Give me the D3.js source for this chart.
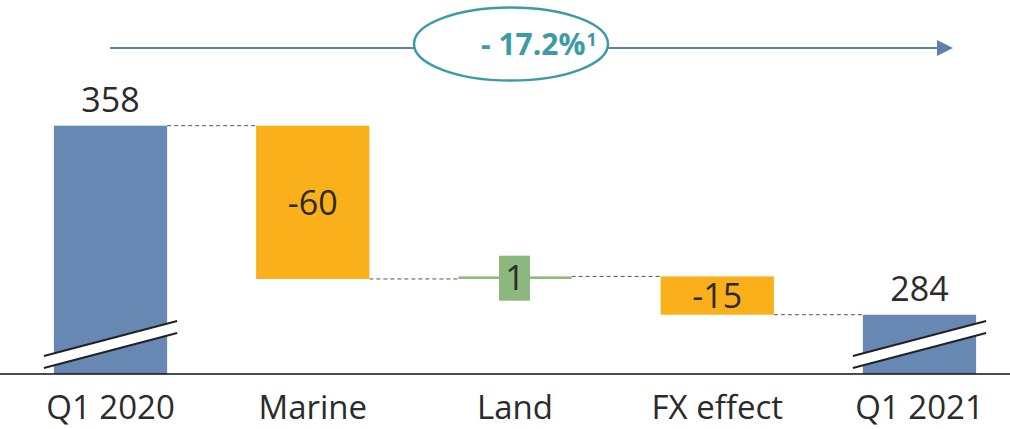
<!DOCTYPE html>
<html>
<head>
<meta charset="utf-8">
<script src="https://cdn.jsdelivr.net/npm/d3@7"></script>
<style>
  html, body { margin: 0; padding: 0; background: #fff; }
  svg { display: block; font-family: "Open Sans", "Noto Sans", sans-serif; }
</style>
</head>
<body>
<svg id="chart" width="1010" height="429"></svg>
<script>
// Revenue bridge, Q1 2020 -> Q1 2021
const categories = ["Q1 2020", "Marine", "Land", "FX effect", "Q1 2021"];
const values = [358, -60, 1, -15, 284];
const kinds = ["total", "delta", "delta", "delta", "total"];
const valueLabels = ["358", "-60", "1", "-15", "284"];
const changeText = "- 17.2%";
const changeNote = "1";

// Broken value axis: the bottom of the plot does not start at zero
const axisFloor = 260.8;
const axisCeil = 407.2;

const W = 1010, H = 429;
const baseY = 374;

const colors = { total: "#6788b3", neg: "#fab01a", pos: "#8db87d" };
const textColor = "#2b2b2b";

const svg = d3.select("#chart");

const x = d3.scaleBand()
  .domain(categories)
  .range([10, 1020])
  .paddingInner(0.44)
  .paddingOuter(0.217);

const y = d3.scaleLinear()
  .domain([axisFloor, axisCeil])
  .range([baseY, 0]);

// Running totals for the bridge
let running = 0;
const steps = categories.map((c, i) => {
  let lo, hi, end;
  if (kinds[i] === "total") {
    lo = axisFloor; hi = values[i]; end = values[i];
  } else {
    const start = running;
    end = start + values[i];
    lo = Math.min(start, end); hi = Math.max(start, end);
  }
  running = end;
  return { cat: c, i, lo, hi, end, value: values[i], kind: kinds[i], label: valueLabels[i] };
});

// Dashed connectors between consecutive bars
for (let i = 0; i < steps.length - 1; i++) {
  const level = steps[i].end;
  svg.append("line")
    .attr("x1", x(steps[i].cat) + x.bandwidth())
    .attr("x2", x(steps[i + 1].cat))
    .attr("y1", y(level)).attr("y2", y(level))
    .attr("stroke", "#555").attr("stroke-width", 1)
    .attr("stroke-dasharray", "4,3");
}

function fillFor(s) {
  if (s.kind === "total") return colors.total;
  return s.value < 0 ? colors.neg : colors.pos;
}

// Bars
svg.selectAll("rect.bar")
  .data(steps)
  .join("rect")
  .attr("class", "bar")
  .attr("x", d => x(d.cat))
  .attr("width", x.bandwidth())
  .attr("y", d => y(d.hi))
  .attr("height", d => y(d.lo) - y(d.hi))
  .attr("fill", fillFor);

// Axis-break marks on the total bars
steps.filter(s => s.kind === "total").forEach(s => {
  const x0 = x(s.cat) - 10, x1 = x(s.cat) + x.bandwidth() + 10;
  const g = svg.append("g");
  g.append("polygon")
    .attr("points", [[x0, baseY - 18], [x1, baseY - 53], [x1, baseY - 41], [x0, baseY - 6]].join(" "))
    .attr("fill", "#fff");
  [[18, 53], [6, 41]].forEach(([a, b]) => {
    g.append("line")
      .attr("x1", x0).attr("y1", baseY - a)
      .attr("x2", x1).attr("y2", baseY - b)
      .attr("stroke", "#222").attr("stroke-width", 2);
  });
});

// Baseline
svg.append("line")
  .attr("x1", 0).attr("x2", W)
  .attr("y1", baseY).attr("y2", baseY)
  .attr("stroke", "#111").attr("stroke-width", 1.6);

// Category labels
const xAxis = d3.axisBottom(x).tickSize(0).tickPadding(0);
const gx = svg.append("g").attr("transform", `translate(0,${baseY})`).call(xAxis);
gx.select(".domain").remove();
gx.selectAll("text")
  .attr("y", 45).attr("dy", null)
  .attr("font-size", 33)
  .attr("font-family", '"Open Sans", "Noto Sans", sans-serif')
  .attr("fill", textColor);

// Value labels
steps.forEach(s => {
  const cx = x(s.cat) + x.bandwidth() / 2;
  if (s.kind === "total") {
    svg.append("text")
      .attr("x", cx).attr("y", y(s.hi) - 14)
      .attr("text-anchor", "middle")
      .attr("font-size", 34).attr("fill", textColor)
      .text(s.label);
  } else {
    const cy = (y(s.lo) + y(s.hi)) / 2;
    if (y(s.lo) - y(s.hi) < 40) {
      // small step: label sits on a coloured tab centred on the bar
      if (s.value > 0) {
        svg.append("rect")
          .attr("x", cx - 16).attr("y", cy - 22)
          .attr("width", 31).attr("height", 45)
          .attr("fill", fillFor(s));
      }
    }
    svg.append("text")
      .attr("x", cx).attr("y", cy)
      .attr("dy", "0.36em")
      .attr("text-anchor", "middle")
      .attr("font-size", 34).attr("fill", textColor)
      .text(s.label);
  }
});

// Overall change arrow with the highlighted percentage
const arrowY = 48;
const defs = svg.append("defs");
defs.append("marker")
  .attr("id", "arrowHead")
  .attr("viewBox", "0 0 16 16")
  .attr("refX", 0).attr("refY", 8)
  .attr("markerWidth", 16).attr("markerHeight", 16)
  .attr("markerUnits", "userSpaceOnUse")
  .attr("orient", "auto")
  .append("path")
  .attr("d", "M0,0 L16,8 L0,16 Z")
  .attr("fill", "#5d80b0");

svg.append("line")
  .attr("x1", 110).attr("x2", 937)
  .attr("y1", arrowY).attr("y2", arrowY)
  .attr("stroke", "#5d80b0").attr("stroke-width", 2.2)
  .attr("marker-end", "url(#arrowHead)");

svg.append("ellipse")
  .attr("cx", 511).attr("cy", 44)
  .attr("rx", 97).attr("ry", 36.5)
  .attr("fill", "#fff")
  .attr("stroke", "#3d9ba4").attr("stroke-width", 2.5);

const pct = svg.append("text")
  .attr("x", 481).attr("y", 55)
  .attr("font-size", 30).attr("font-weight", "bold")
  .attr("fill", "#3d9ba4");
pct.append("tspan").text(changeText);
pct.append("tspan").attr("font-size", 18).attr("dy", -9).attr("dx", 1).text(changeNote);
</script>
</body>
</html>
